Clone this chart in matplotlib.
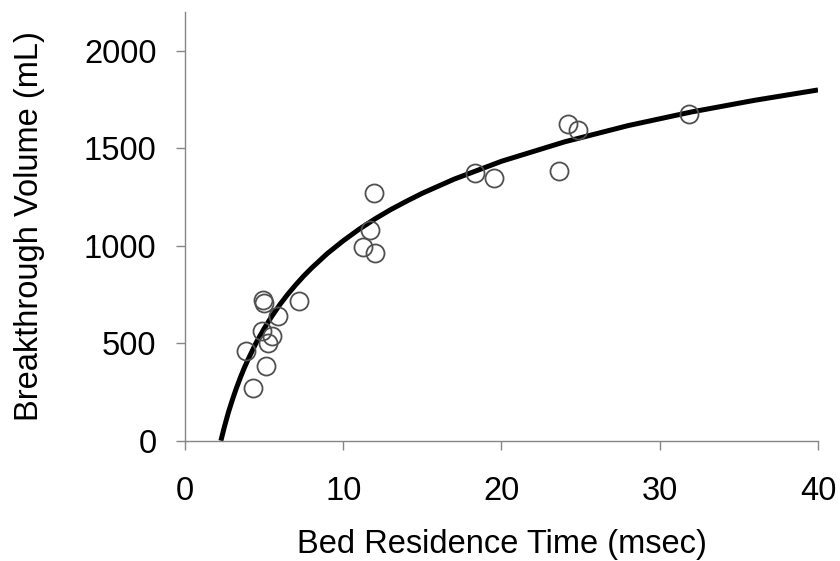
import numpy as np
import matplotlib
matplotlib.use("Agg")
import matplotlib.pyplot as plt

# measured points (bed residence time in msec, breakthrough volume in mL)
time_ms = [3.83, 4.30, 4.95, 5.01, 4.88, 5.14, 5.22, 5.51, 5.85, 7.22,
           11.26, 11.69, 11.96, 12.0, 18.32, 19.54, 23.63, 24.21, 24.81, 31.86]
volume_ml = [459, 273, 720, 708, 561, 382, 501, 536, 640, 716,
             996, 1082, 1271, 962, 1372, 1348, 1382, 1627, 1595, 1676]

# fitted curve
fit_time = [2.27, 2.5, 2.75, 3, 3.25, 3.5, 3.75, 4, 4.5, 5, 5.5, 6, 6.5, 7, 7.5,
            8, 9, 10, 11, 12, 13, 14, 15, 17, 20, 24, 28, 32, 36, 40]
fit_volume = [0, 74, 147, 211, 270, 324, 374, 419, 503, 575, 640, 699, 752, 800, 845,
              886, 961, 1026, 1085, 1138, 1186, 1229, 1270, 1342, 1434, 1534, 1617,
              1687, 1747, 1800]

x_ticks = [0, 10, 20, 30, 40]
y_ticks = [0, 500, 1000, 1500, 2000]

plt.rcParams['font.family'] = ['Liberation Sans', 'DejaVu Sans']
axis_grey = '#868686'

fig = plt.figure(figsize=(8.4, 5.61), dpi=100)
ax = fig.add_axes([0.2202, 0.2144, 0.7536, 0.7642])

ax.plot(fit_time, fit_volume, color='black', lw=3.6, solid_capstyle='butt',
        solid_joinstyle='round', zorder=2)
ax.plot(time_ms, volume_ml, 'o', ms=13, mfc='none', mec='#505050', mew=1.3, zorder=3)

ax.set_xlim(0, 40)
ax.set_ylim(0, 2200)
ax.set_xticks(x_ticks)
ax.set_yticks(y_ticks)

for side in ['top', 'right']:
    ax.spines[side].set_visible(False)
for side in ['left', 'bottom']:
    ax.spines[side].set_color(axis_grey)
    ax.spines[side].set_linewidth(1.0)

ax.tick_params(axis='both', colors=axis_grey, length=6.5, width=1.0,
               labelcolor='black', labelsize=23.5)
ax.tick_params(axis='x', pad=19)
ax.tick_params(axis='y', pad=14)

ax.set_xlabel('Bed Residence Time (msec)', fontsize=23.5, labelpad=16)
ax.set_ylabel('Breakthrough Volume (mL)', fontsize=23.5, labelpad=28)

fig.savefig('out.png', dpi=100)
